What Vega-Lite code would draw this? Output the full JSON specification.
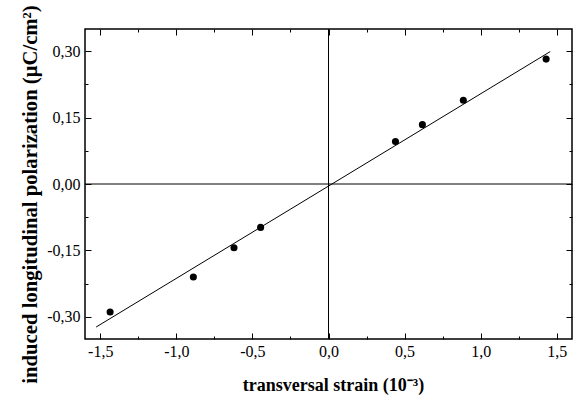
{
  "$schema": "https://vega.github.io/schema/vega-lite/v6.json",
  "width": 487,
  "height": 310,
  "autosize": "none",
  "padding": {"left": 85, "top": 29, "right": 1, "bottom": 56},
  "background": "white",
  "config": {
    "view": {"stroke": "black", "strokeWidth": 1.5},
    "axis": {
      "labelFont": "Liberation Serif",
      "labelFontSize": 16,
      "labelColor": "black",
      "titleFont": "Liberation Serif",
      "titleFontSize": 18,
      "titleFontWeight": "bold",
      "titleColor": "black",
      "domain": false,
      "grid": false,
      "tickColor": "black",
      "tickWidth": 1,
      "zindex": 1
    }
  },
  "datasets": {
    "points": [
      {"strain": -1.435, "polarization": -0.289},
      {"strain": -0.888, "polarization": -0.210},
      {"strain": -0.621, "polarization": -0.144},
      {"strain": -0.446, "polarization": -0.098},
      {"strain": 0.440, "polarization": 0.096},
      {"strain": 0.617, "polarization": 0.134},
      {"strain": 0.886, "polarization": 0.189},
      {"strain": 1.430, "polarization": 0.282}
    ],
    "fit": [
      {"strain": -1.527, "polarization": -0.323},
      {"strain": 1.457, "polarization": 0.299}
    ],
    "origin": [
      {"strain": 0, "polarization": 0}
    ]
  },
  "layer": [
    {
      "data": {"name": "points"},
      "mark": {"type": "point", "opacity": 0},
      "encoding": {
        "x": {
          "field": "strain", "type": "quantitative",
          "scale": {"domain": [-1.6, 1.6], "nice": false, "zero": false},
          "axis": {"orient": "bottom", "title": null, "labels": false, "tickSize": 3, "offset": -3, "zindex": 1,
            "values": [-1.25, -0.75, -0.25, 0.25, 0.75, 1.25]}
        },
        "y": {
          "field": "polarization", "type": "quantitative",
          "scale": {"domain": [-0.35, 0.35], "nice": false, "zero": false},
          "axis": {"orient": "left", "title": null, "labels": false, "tickSize": 3, "offset": -3, "zindex": 1,
            "values": [-0.225, -0.075, 0.075, 0.225]}
        }
      }
    },
    {
      "data": {"name": "points"},
      "mark": {"type": "point", "opacity": 0},
      "encoding": {
        "x": {
          "field": "strain", "type": "quantitative",
          "axis": {"orient": "top", "title": null, "labels": false, "tickSize": 3, "offset": -3, "zindex": 1,
            "values": [-1.25, -0.75, -0.25, 0.25, 0.75, 1.25]}
        },
        "y": {
          "field": "polarization", "type": "quantitative",
          "axis": {"orient": "right", "title": null, "labels": false, "tickSize": 3, "offset": -3, "zindex": 1,
            "values": [-0.225, -0.075, 0.075, 0.225]}
        }
      }
    },
    {
      "data": {"name": "origin"},
      "mark": {"type": "rule", "color": "black", "strokeWidth": 1},
      "encoding": {
        "x": {"field": "strain", "type": "quantitative", "axis": null},
        "y": {"datum": -0.35, "type": "quantitative", "axis": null},
        "y2": {"datum": 0.35}
      }
    },
    {
      "data": {"name": "origin"},
      "mark": {"type": "rule", "color": "black", "strokeWidth": 1},
      "encoding": {
        "y": {"field": "polarization", "type": "quantitative", "axis": null},
        "x": {"datum": -1.6, "type": "quantitative", "axis": null},
        "x2": {"datum": 1.6}
      }
    },
    {
      "data": {"name": "fit"},
      "mark": {"type": "line", "color": "black", "strokeWidth": 1},
      "encoding": {
        "x": {
          "field": "strain", "type": "quantitative",
          "axis": {"orient": "top", "title": null, "labels": false, "tickSize": 6, "offset": -6, "zindex": 1,
            "values": [-1.5, -1.0, -0.5, 0, 0.5, 1.0, 1.5]}
        },
        "y": {
          "field": "polarization", "type": "quantitative",
          "axis": {"orient": "right", "title": null, "labels": false, "tickSize": 6, "offset": -6, "zindex": 1,
            "values": [-0.3, -0.15, 0, 0.15, 0.3]}
        }
      }
    },
    {
      "data": {"name": "points"},
      "mark": {"type": "point", "filled": true, "color": "black", "opacity": 1, "size": 50},
      "encoding": {
        "x": {
          "field": "strain", "type": "quantitative",
          "axis": {
            "orient": "bottom", "title": "transversal strain (10⁻³)",
            "values": [-1.5, -1.0, -0.5, 0, 0.5, 1.0, 1.5],
            "labelExpr": "(datum.value < -1e-9 ? '-' : '') + replace(format(abs(datum.value), '.1f'), '.', ',')",
            "tickSize": 6, "offset": -6, "zindex": 1,
            "labelPadding": 4,
            "titlePadding": 17,
            "titleX": 248
          }
        },
        "y": {
          "field": "polarization", "type": "quantitative",
          "axis": {
            "orient": "left", "title": "induced longitudinal polarization (μC/cm²)",
            "titleFontSize": 20.7,
            "titleY": 165,
            "values": [-0.3, -0.15, 0, 0.15, 0.3],
            "labelExpr": "(datum.value < -1e-9 ? '-' : '') + replace(format(abs(datum.value), '.2f'), '.', ',')",
            "tickSize": 6, "offset": -6, "zindex": 1,
            "labelPadding": 5,
            "titlePadding": 6
          }
        }
      }
    }
  ],
  "resolve": {"axis": {"x": "independent", "y": "independent"}}
}
